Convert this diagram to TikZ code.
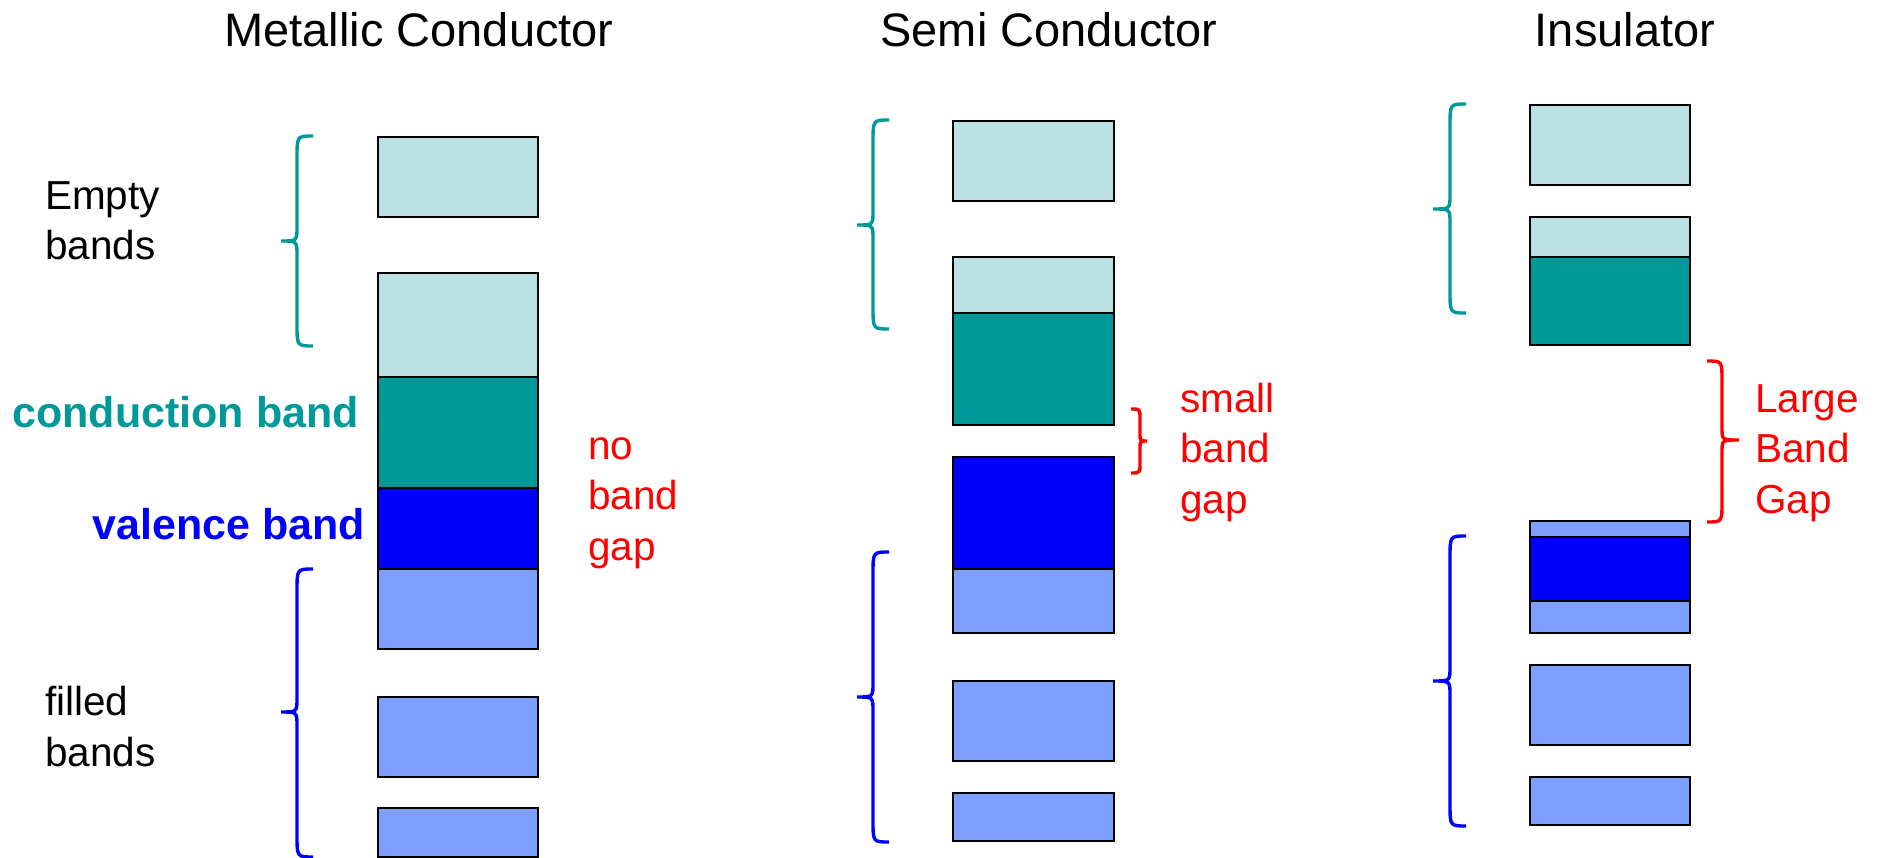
\documentclass[tikz,border=0pt]{standalone}
\usepackage{fontspec}
\setmainfont{Liberation Sans}
\definecolor{emptyfill}{HTML}{BBE0E3}
\definecolor{condfill}{HTML}{009999}
\definecolor{valfill}{HTML}{0000FF}
\definecolor{filledfill}{HTML}{7F9FFF}
\definecolor{bracered}{HTML}{FF0000}
\tikzset{
  bandbox/.style={draw=black, line width=2.6pt},
  bracestyle/.style={line width=3.4pt, line cap=butt},
  title/.style={anchor=base, inner sep=0pt, font=\fontsize{47}{56}\selectfont},
  lbl/.style={anchor=base west, inner sep=0pt, align=left, font=\fontsize{40.5}{50.5}\selectfont},
  boldlbl/.style={anchor=base east, inner sep=0pt, font=\fontsize{43}{50}\selectfont\bfseries},
}
\begin{document}
\begin{tikzpicture}[x=1pt,y=-1pt]
\useasboundingbox (0,0) rectangle (1890,858);

% ---------- titles
\node[title] (t1) at (419,47) {Metallic Conductor};
\node[title] (t2) at (1049,47) {Semi Conductor};
\node[title] (t3) at (1625,47) {Insulator};

% ---------- Metallic conductor bands
\filldraw[bandbox, fill=emptyfill] (378,137) rectangle (538,217);
\filldraw[bandbox, fill=emptyfill] (378,273) rectangle (538,377);
\filldraw[bandbox, fill=condfill] (378,377) rectangle (538,488);
\filldraw[bandbox, fill=valfill] (378,488) rectangle (538,569);
\filldraw[bandbox, fill=filledfill] (378,569) rectangle (538,649);
\filldraw[bandbox, fill=filledfill] (378,697) rectangle (538,777);
\filldraw[bandbox, fill=filledfill] (378,808) rectangle (538,857);

% ---------- Semi conductor bands
\filldraw[bandbox, fill=emptyfill] (953,121) rectangle (1114,201);
\filldraw[bandbox, fill=emptyfill] (953,257) rectangle (1114,313);
\filldraw[bandbox, fill=condfill] (953,313) rectangle (1114,425);
\filldraw[bandbox, fill=valfill] (953,457) rectangle (1114,569);
\filldraw[bandbox, fill=filledfill] (953,569) rectangle (1114,633);
\filldraw[bandbox, fill=filledfill] (953,681) rectangle (1114,761);
\filldraw[bandbox, fill=filledfill] (953,793) rectangle (1114,841);

% ---------- Insulator bands
\filldraw[bandbox, fill=emptyfill] (1530,105) rectangle (1690,185);
\filldraw[bandbox, fill=emptyfill] (1530,217) rectangle (1690,257);
\filldraw[bandbox, fill=condfill] (1530,257) rectangle (1690,345);
\filldraw[bandbox, fill=filledfill] (1530,521) rectangle (1690,633);
\filldraw[bandbox, fill=valfill] (1530,537) rectangle (1690,601);
\filldraw[bandbox, fill=filledfill] (1530,665) rectangle (1690,745);
\filldraw[bandbox, fill=filledfill] (1530,777) rectangle (1690,825);

% ---------- braces (left-opening)
\draw[bracestyle, condfill] (313,136) .. controls (297,136) .. (297,158) -- (297,227) .. controls (297,241) .. (281,241) .. controls (297,241) .. (297,255) -- (297,324) .. controls (297,346) .. (313,346);
\draw[bracestyle, valfill] (313,569) .. controls (297,569) .. (297,591) -- (297,698) .. controls (297,712) .. (281,712) .. controls (297,712) .. (297,726) -- (297,835) .. controls (297,857) .. (313,857);
\draw[bracestyle, condfill] (889,120) .. controls (873,120) .. (873,142) -- (873,211) .. controls (873,225) .. (857,225) .. controls (873,225) .. (873,239) -- (873,307) .. controls (873,329) .. (889,329);
\draw[bracestyle, valfill] (889,552) .. controls (873,552) .. (873,574) -- (873,683) .. controls (873,697) .. (857,697) .. controls (873,697) .. (873,711) -- (873,820) .. controls (873,842) .. (889,842);
\draw[bracestyle, condfill] (1466,104) .. controls (1450,104) .. (1450,126) -- (1450,195) .. controls (1450,209) .. (1433,209) .. controls (1450,209) .. (1450,223) -- (1450,291) .. controls (1450,313) .. (1466,313);
\draw[bracestyle, valfill] (1466,536) .. controls (1450,536) .. (1450,558) -- (1450,667) .. controls (1450,681) .. (1433,681) .. controls (1450,681) .. (1450,695) -- (1450,804) .. controls (1450,826) .. (1466,826);

% ---------- braces (right-opening, red)
\draw[bracestyle, bracered] (1131,409) .. controls (1140,409) .. (1140,419) -- (1140,433) .. controls (1140,441) .. (1147,441) .. controls (1140,441) .. (1140,449) -- (1140,463) .. controls (1140,473) .. (1131,473);
\draw[bracestyle, bracered] (1707,361) .. controls (1722,361) .. (1722,381) -- (1722,428) .. controls (1722,440) .. (1739,440) .. controls (1722,440) .. (1722,452) -- (1722,502) .. controls (1722,522) .. (1707,522);

% ---------- labels (anchor = baseline of the last line)
\node[lbl] (empty) at (45,260) {Empty\\bands};
\node[lbl] (filled) at (45,766) {filled\\bands};
\node[boldlbl, text=condfill] (cb) at (359,428) {conduction band};
\node[boldlbl, text=valfill] (vb) at (365,539) {valence band};
\node[lbl, text=bracered] (nogap) at (588,560) {no\\band\\gap};
\node[lbl, text=bracered] (smallgap) at (1180,513) {small\\band\\gap};
\node[lbl, text=bracered] (largegap) at (1755,513) {Large\\Band\\Gap};
\end{tikzpicture}
\end{document}
